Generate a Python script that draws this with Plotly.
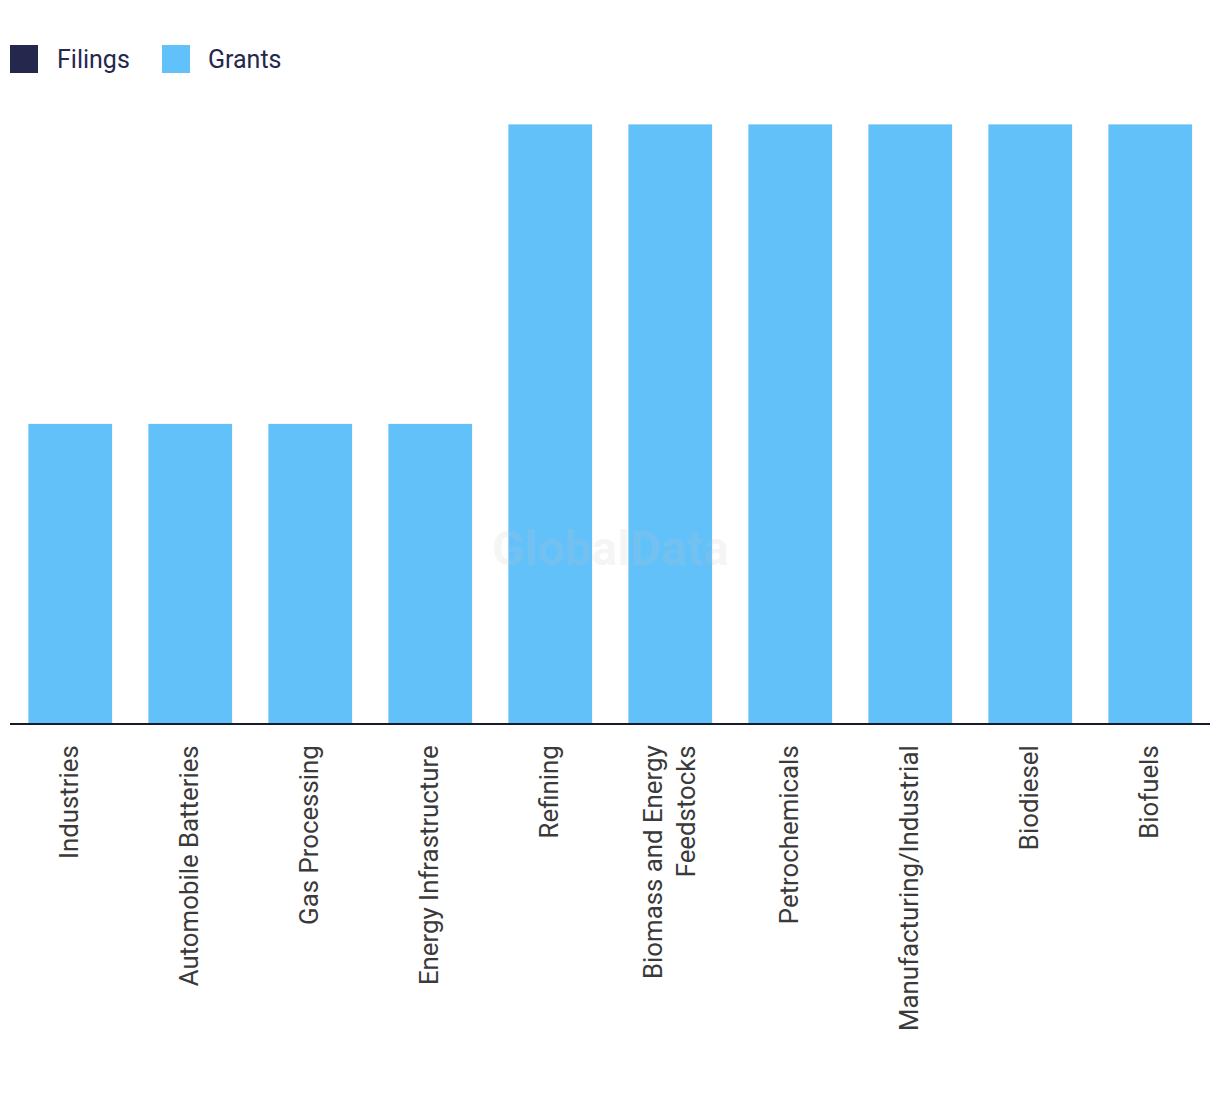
import plotly.graph_objects as go

categories = ["Industries", "Automobile Batteries", "Gas Processing", "Energy Infrastructure",
              "Refining", "Biomass and Energy<br>Feedstocks", "Petrochemicals",
              "Manufacturing/Industrial", "Biodiesel", "Biofuels"]
filings = [0, 0, 0, 0, 0, 0, 0, 0, 0, 0]
grants = [1, 1, 1, 1, 2, 2, 2, 2, 2, 2]
series_names = ["Filings", "Grants"]

navy = "#25274d"
blue = "#63c1f9"
W, H = 1220, 1094
L, R, T, B = 10, 10, 124, 371
pw, ph = W - L - R, H - T - B


def px_x(x):
    return (x - L) / pw


def px_y(y):
    return (H - B - y) / ph


fig = go.Figure()
fig.add_trace(go.Bar(x=categories, y=filings, name=series_names[0], marker_color=navy, showlegend=False))
fig.add_trace(go.Bar(x=categories, y=grants, name=series_names[1], marker_color=blue, showlegend=False))

shapes = []
annotations = []
# manual legend (large squares)
for (sx, tx), name, col in zip([(10, 55), (162, 206)], series_names, [navy, blue]):
    shapes.append(dict(type="rect", xref="paper", yref="paper",
                       x0=px_x(sx), x1=px_x(sx + 28), y0=px_y(73), y1=px_y(45),
                       fillcolor=col, line=dict(width=0)))
    annotations.append(dict(text=name, xref="paper", yref="paper", x=px_x(tx), y=px_y(59),
                            xanchor="left", yanchor="middle", showarrow=False,
                            font=dict(size=25, color="#25274d")))
# watermark
annotations.append(dict(text="<b>GlobalData</b>", x=px_x(610), y=px_y(548), xref="paper", yref="paper",
                        xanchor="center", yanchor="middle",
                        showarrow=False, font=dict(size=48, color="rgba(195,195,195,0.17)")))

fig.update_layout(
    width=W, height=H,
    barmode="stack", bargap=0.3,
    plot_bgcolor="white", paper_bgcolor="white",
    margin=dict(l=L, r=R, t=T, b=B, autoexpand=False),
    font=dict(family="Roboto, sans-serif", color="#333333", size=25),
    showlegend=False,
    shapes=shapes,
    annotations=annotations,
)
fig.update_xaxes(tickangle=-90, showline=True, linecolor="#1a1a2e", linewidth=2,
                 ticks="outside", ticklen=10, tickcolor="rgba(0,0,0,0)", showgrid=False,
                 tickfont=dict(size=25.8, color="#3a3a3a"))
fig.update_yaxes(range=[0, 2], visible=False, showgrid=False)

fig.write_html("out.html", config={"displayModeBar": False},
               post_script="document.body.style.margin='0';")
